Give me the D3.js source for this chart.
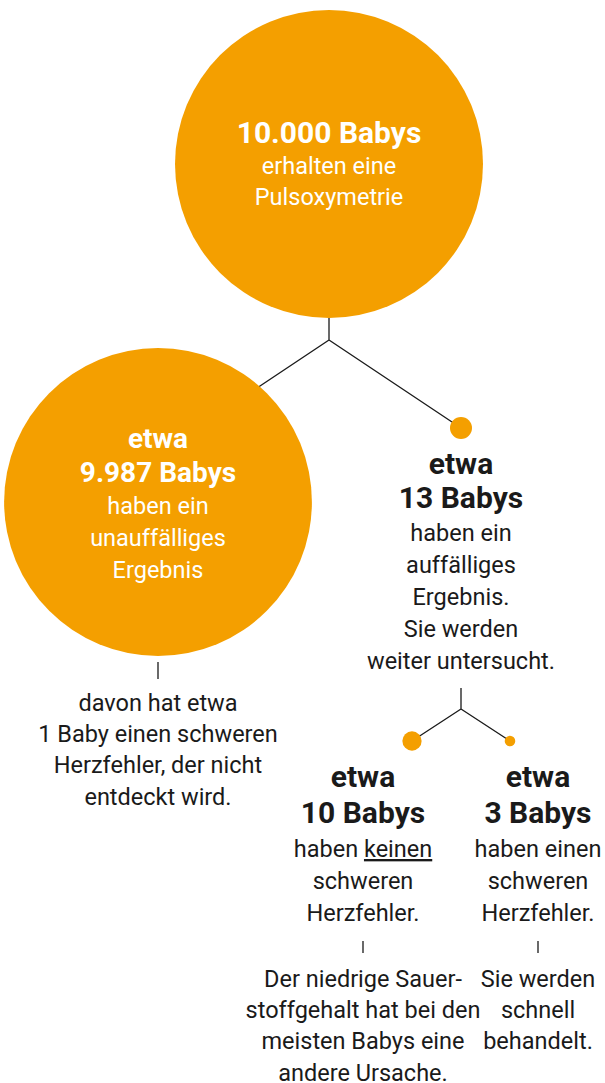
<!DOCTYPE html>
<html>
<head>
<meta charset="utf-8" />
<style>
    body{ margin: 0; background: #fff; }
    svg{ display: block; }
    text{ font-family: Roboto, "Noto Sans", sans-serif; text-anchor: middle; }
    .bold{ font-weight: 700; }
    .reg{ font-weight: 400; }
</style>
</head>
<body>
<svg id="tree" width="605" height="1083"></svg>
<script src="https://cdn.jsdelivr.net/npm/d3@7"></script>
<script>
// --- data ---
var nodeIds = ['all', 'normal', 'abnormal', 'noDefect', 'defect'];
var nodeCounts = [10000, 9987, 13, 10, 3];
var nodeParents = [null, 'all', 'all', 'abnormal', 'abnormal'];
var boldLines = [
    ['10.000 Babys'],
    ['etwa', '9.987 Babys'],
    ['etwa', '13 Babys'],
    ['etwa', '10 Babys'],
    ['etwa', '3 Babys']
];
var textLines = [
    ['erhalten eine', 'Pulsoxymetrie'],
    ['haben ein', 'unauffälliges', 'Ergebnis'],
    ['haben ein', 'auffälliges', 'Ergebnis.', 'Sie werden', 'weiter untersucht.'],
    ['haben _keinen_', 'schweren', 'Herzfehler.'],
    ['haben einen', 'schweren', 'Herzfehler.']
];
var noteLines = [
    null,
    ['davon hat etwa', '1 Baby einen schweren', 'Herzfehler, der nicht', 'entdeckt wird.'],
    null,
    ['Der niedrige Sauer-', 'stoffgehalt hat bei den', 'meisten Babys eine', 'andere Ursache.'],
    ['Sie werden', 'schnell', 'behandelt.']
];

// --- layout (positions only) ---
// ty = first baseline, lh = [bold->bold, bold->text, text->text]
var layout = {
    all:      {cx: 329, cy: 164, tx: 329, ty: 143, lh: [34, 31, 31], inside: true},
    normal:   {cx: 158, cy: 502, tx: 158, ty: 448, lh: [34, 32, 32], inside: true, boldSize: 28,
               noteTick: [662, 679], noteY: 711},
    abnormal: {cx: 461, cy: 428, tx: 461, ty: 474, lh: [34, 33, 32], inside: false},
    noDefect: {cx: 412, cy: 741, tx: 363, ty: 787, lh: [36, 34, 32], inside: false,
               noteTick: [941, 953], noteY: 987},
    defect:   {cx: 510, cy: 741, tx: 538, ty: 787, lh: [36, 34, 32], inside: false,
               noteTick: [941, 953], noteY: 987}
};
var forks = {
    all: {y0: 318, jy: 340, ey: 428, dx: 132},
    abnormal: {y0: 688, jy: 709, ey: 741, dx: 49}
};

var orange = '#f49f00',
    ink = '#1a1a1a';

var nodes = nodeIds.map(function(id, i){
    return {id: id, count: nodeCounts[i], parent: nodeParents[i],
            bold: boldLines[i], text: textLines[i], note: noteLines[i], pos: layout[id]};
});

// big circles and tiny dots use separate sqrt scales
var rBig = d3.scaleSqrt().domain([0, 10000]).range([0, 154]);
var rSmall = d3.scaleSqrt().domain([0, 13]).range([0, 11]);
function radius(d){ return d.count > 1000 ? rBig(d.count) : rSmall(d.count); }

var svg = d3.select('#tree');
var gLinks = svg.append('g');
var gNodes = svg.append('g');
var gText = svg.append('g');

// fork connectors
Object.keys(forks).forEach(function(id){
    var f = forks[id], x = layout[id].cx;
    var path = d3.path();
    path.moveTo(x, f.y0); path.lineTo(x, f.jy);
    path.moveTo(x - f.dx, f.ey); path.lineTo(x, f.jy); path.lineTo(x + f.dx, f.ey);
    gLinks.append('path')
        .attr('d', path.toString())
        .attr('fill', 'none')
        .attr('stroke', ink)
        .attr('stroke-width', 1.3);
});

gNodes.selectAll('circle')
    .data(nodes)
    .enter().append('circle')
    .attr('cx', function(d){ return d.pos.cx; })
    .attr('cy', function(d){ return d.pos.cy; })
    .attr('r', radius)
    .attr('fill', orange);

var regSize = '23.5px';

nodes.forEach(function(d){
    var p = d.pos;
    var col = p.inside ? '#fff' : ink;
    var y = p.ty;
    var t = gText.append('text').attr('fill', col);
    d.bold.forEach(function(line, i){
        if(i > 0) y += p.lh[0];
        t.append('tspan').attr('class', 'bold')
            .attr('x', p.tx).attr('y', y)
            .style('font-size', (p.boldSize || 30) + 'px')
            .text(line);
    });
    d.text.forEach(function(line, i){
        y += i === 0 ? p.lh[1] : p.lh[2];
        var ts = t.append('tspan').attr('class', 'reg')
            .attr('x', p.tx).attr('y', y)
            .style('font-size', regSize);
        line.split('_').forEach(function(part, k){
            if(!part) return;
            var s = ts.append('tspan').text(part);
            if(k % 2 === 1) s.style('text-decoration', 'underline');
        });
    });
    if(d.note){
        gText.append('line')
            .attr('x1', p.tx).attr('x2', p.tx)
            .attr('y1', p.noteTick[0]).attr('y2', p.noteTick[1])
            .attr('stroke', ink).attr('stroke-width', 1.3);
        var n = gText.append('text').attr('fill', ink).attr('class', 'reg')
            .style('font-size', regSize);
        d.note.forEach(function(line, i){
            n.append('tspan').attr('x', p.tx).attr('y', p.noteY + i * 31.2).text(line);
        });
    }
});
</script>
</body>
</html>
